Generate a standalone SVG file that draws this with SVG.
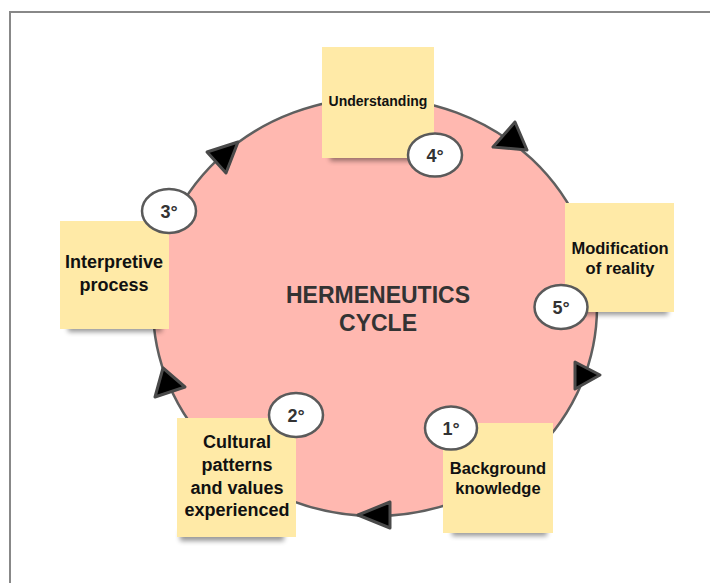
<svg xmlns="http://www.w3.org/2000/svg" width="710" height="583" viewBox="0 0 710 583">
  <style>
    .note { fill: #ffeaa7; }
    .shadow { fill: #000; opacity: 0.4; filter: url(#blur); }
    .label { font-family: "Liberation Sans", Arial, sans-serif; font-weight: bold; fill: #111; text-anchor: middle; }
    .badge { fill: #fff; stroke: #5a5a5a; stroke-width: 2.5; }
    .badge-text { font-family: "Liberation Sans", Arial, sans-serif; font-weight: bold; font-size: 18px; fill: #333; text-anchor: middle; }
    .head { fill: #000; stroke: #4a4a4a; stroke-width: 3; stroke-linejoin: round; }
  </style>
  <defs>
    <filter id="blur" x="-20%" y="-100%" width="140%" height="300%">
      <feGaussianBlur stdDeviation="2.5"/>
    </filter>
  </defs>

  <rect width="710" height="583" fill="#fff"/>
  <!-- frame -->
  <path d="M10,583 V12 H710" fill="none" stroke="#888" stroke-width="2"/>

  <!-- central cycle -->
  <g id="cycle">
    <ellipse cx="375" cy="307" rx="222" ry="209" fill="#ffb8b0" stroke="#5f5f5f" stroke-width="2.5"/>
    <text class="label" style="fill:#333" font-size="23" x="378" y="303">HERMENEUTICS</text>
    <text class="label" style="fill:#333" font-size="23" x="378" y="331">CYCLE</text>
  </g>

  <!-- arrowheads along the cycle -->
  <g id="connectors">
    <polygon class="head" points="358,515 390,502 390,528"/>
    <polygon class="head" points="163,368 185,387 155,397"/>
    <polygon class="head" points="207,152 238,142 226,173"/>
    <polygon class="head" points="515,122 493,147 527,150"/>
    <polygon class="head" points="575,362 600,375 575,389"/>
  </g>

  <!-- step 1 -->
  <g id="background-knowledge">
    <rect class="shadow" x="452" y="527" width="95" height="9"/>
    <rect class="note" x="443" y="423" width="110" height="110"/>
    <text class="label" font-size="16.5" x="498" y="474">Background</text>
    <text class="label" font-size="16.5" x="498" y="494">knowledge</text>
  </g>
  <g id="badge-1">
    <ellipse class="badge" cx="451" cy="428" rx="26" ry="21.5"/>
    <text class="badge-text" x="451" y="434.5">1°</text>
  </g>

  <!-- step 2 -->
  <g id="cultural-patterns">
    <rect class="shadow" x="180" y="531" width="104" height="10"/>
    <rect class="note" x="177" y="418" width="119" height="119"/>
    <text class="label" font-size="18" x="237" y="448">Cultural</text>
    <text class="label" font-size="18" x="237" y="471">patterns</text>
    <text class="label" font-size="18" x="237" y="494">and values</text>
    <text class="label" font-size="18" x="237" y="516">experienced</text>
  </g>
  <g id="badge-2">
    <ellipse class="badge" cx="296" cy="415" rx="27" ry="22"/>
    <text class="badge-text" x="296" y="421.5">2°</text>
  </g>

  <!-- step 3 -->
  <g id="interpretive-process">
    <rect class="shadow" x="68" y="323" width="94" height="9"/>
    <rect class="note" x="60" y="221" width="109" height="108"/>
    <text class="label" font-size="18" x="114" y="268">Interpretive</text>
    <text class="label" font-size="18" x="114" y="291">process</text>
  </g>
  <g id="badge-3">
    <ellipse class="badge" cx="169" cy="211" rx="27" ry="22"/>
    <text class="badge-text" x="169" y="217.5">3°</text>
  </g>

  <!-- step 4 -->
  <g id="understanding">
    <rect class="shadow" x="330" y="152" width="97" height="9"/>
    <rect class="note" x="322" y="47" width="112" height="111"/>
    <text class="label" font-size="14" x="378" y="106">Understanding</text>
  </g>
  <g id="badge-4">
    <ellipse class="badge" cx="435" cy="155" rx="27" ry="21.5"/>
    <text class="badge-text" x="435" y="161.5">4°</text>
  </g>

  <!-- step 5 -->
  <g id="modification-of-reality">
    <rect class="shadow" x="573" y="306" width="95" height="9"/>
    <rect class="note" x="565" y="203" width="109" height="109"/>
    <text class="label" font-size="16.5" x="620" y="254">Modification</text>
    <text class="label" font-size="16.5" x="620" y="274">of reality</text>
  </g>
  <g id="badge-5">
    <ellipse class="badge" cx="561" cy="307" rx="26.5" ry="22"/>
    <text class="badge-text" x="561" y="313.5">5°</text>
  </g>
</svg>
